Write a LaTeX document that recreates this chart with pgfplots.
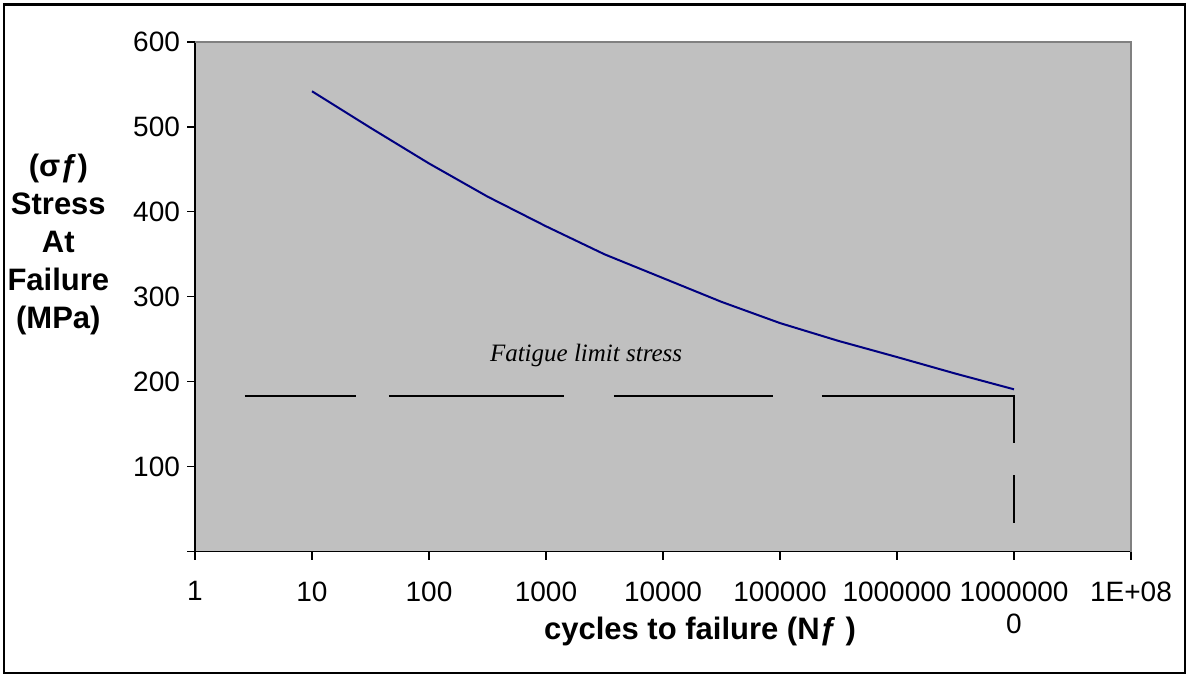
\documentclass[border=0pt]{standalone}
\usepackage{fontspec}
\usepackage{pgfplots}
\pgfplotsset{compat=1.18}
\setmainfont{Liberation Sans}
\newfontfamily\serifit{Liberation Serif}
\definecolor{plotbg}{RGB}{192,192,192}
\definecolor{curve}{RGB}{0,0,128}
\definecolor{framegray}{RGB}{128,128,128}

\begin{document}
\begin{tikzpicture}
% page frame, in pixels of the original (1 px = 0.5pt, y downward)
\begin{scope}[x=0.5pt,y=-0.5pt]
\path (0,0) rectangle (1189,675);
\draw[line width=1.25pt] (4,4.3) rectangle (1185,672.8);
\end{scope}
\begin{axis}[
    at={(97.5pt,-275.75pt)}, anchor=south west,
    scale only axis, width=468pt, height=254.75pt,
    xmode=log, xmin=1, xmax=1e8, ymin=0, ymax=600,
    axis lines=left, axis line style={-, line width=0.6pt},
    axis background/.style={fill=plotbg},
    xtick={1,10,100,1000,10000,100000,1000000,10000000,100000000},
    xticklabels={1,10,100,1000,10000,100000,1000000,{1000000\\0},1E+08},
    ytick={0,100,...,600}, yticklabels={,100,200,300,400,500,600},
    minor x tick style={draw=none},
    tick align=outside, major tick length=4pt,
    tick style={black, line width=0.6pt},
    ticklabel style={font=\fontsize{14}{16}\selectfont},
    x tick label style={align=center, yshift=-7.5pt},
    every axis y label/.style={at={(axis description cs:-0.146,0.6035)}, anchor=center,
        align=center, font=\bfseries\fontsize{15.5}{19}\selectfont},
    every axis x label/.style={at={(axis description cs:0.5395,-0.156)}, anchor=center,
        font=\bfseries\fontsize{15.5}{18}\selectfont},
    ylabel={(σƒ)\\Stress\\At\\Failure\\(MPa)},
    xlabel={cycles to failure (Nƒ )},
    extra description/.code={
        \draw[framegray, line width=0.75pt] (axis description cs:0,1) -- (axis description cs:1,1) -- (axis description cs:1,0);
    },
]
% S-N curve
\addplot[curve, line width=1pt] coordinates {
    (10,542) (31.6,499) (100,457) (316,418) (1000,383) (3162,350)
    (10000,322) (31623,294) (100000,269) (316228,248) (1000000,229)
    (3162278,209.5) (10000000,191)
};
% fatigue limit, drawn as long dashes
\addplot[black, line width=0.9pt] coordinates {(2.67,183.5) (23.8,183.5)};
\addplot[black, line width=0.9pt] coordinates {(45.5,183.5) (1425,183.5)};
\addplot[black, line width=0.9pt] coordinates {(3811,183.5) (87100,183.5)};
\addplot[black, line width=0.9pt] coordinates {(228000,183.5) (10000000,183.5) (10000000,128)};
\addplot[black, line width=0.9pt] coordinates {(10000000,90) (10000000,33.6)};
\node[font=\serifit\itshape\fontsize{12.5}{14}\selectfont] at (axis cs:2200,231) {Fatigue limit stress};
\end{axis}
\end{tikzpicture}
\end{document}
